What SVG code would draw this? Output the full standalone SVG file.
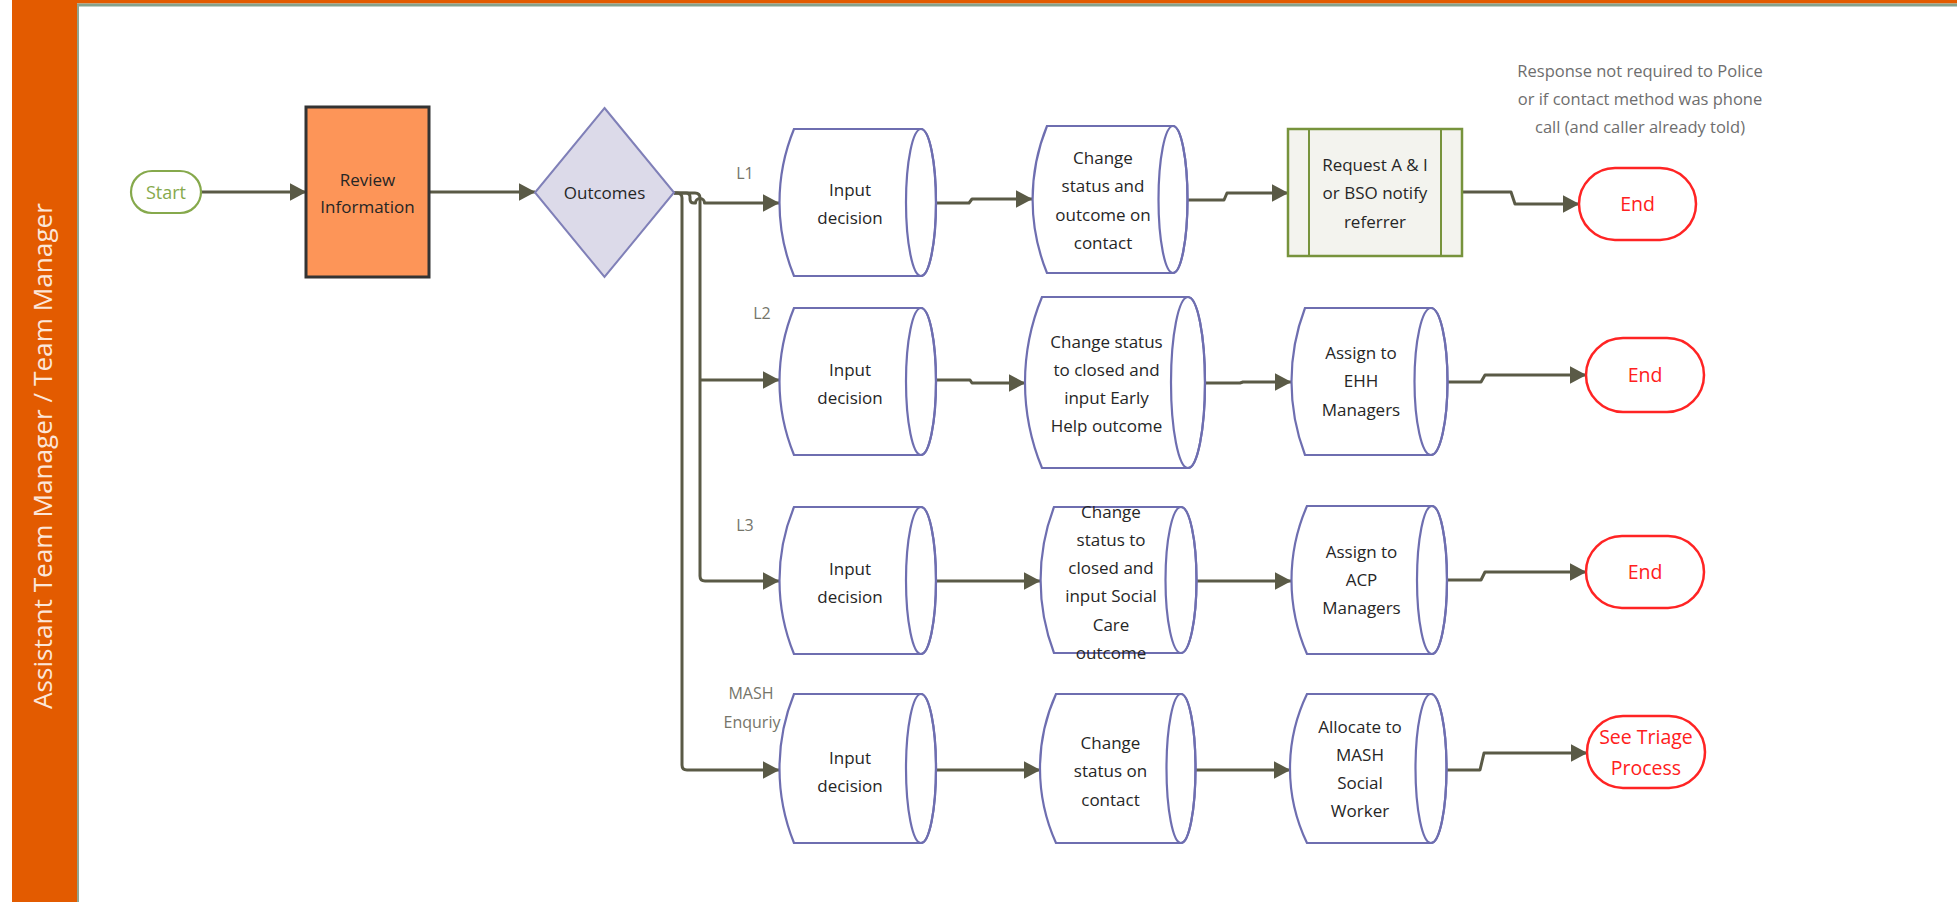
<svg xmlns="http://www.w3.org/2000/svg" width="1957" height="902" viewBox="0 0 1957 902">
  <style>
    .lbl { font-family: "Open Sans", "Liberation Sans", sans-serif; font-size: 17px; fill: #262626; text-anchor: middle; }
    .end { font-family: "Open Sans", "Liberation Sans", sans-serif; font-size: 19.5px; fill: #FF2020; text-anchor: middle; }
    .branch { font-family: "Open Sans", "Liberation Sans", sans-serif; font-size: 16px; fill: #75756A; text-anchor: middle; }
    .note { font-family: "Open Sans", "Liberation Sans", sans-serif; font-size: 16.5px; fill: #6E6E6E; text-anchor: middle; }
    .cyl { fill: #FFFFFF; stroke: #6E6EB0; stroke-width: 2.2; }
    .cyl-cap { fill: none; stroke: #6E6EB0; stroke-width: 2.2; }
    .term-end { fill: #FFFFFF; stroke: #FF2424; stroke-width: 2.5; }
    .conn { fill: none; stroke: #5A5A46; stroke-width: 3; stroke-linejoin: round; }
    .conn-arrow { marker-end: url(#arrow); }
  </style>
  <defs>
    <marker id="arrow" markerUnits="userSpaceOnUse" markerWidth="17" markerHeight="18" viewBox="0 0 17 18" refX="16.5" refY="9" orient="auto">
      <path d="M0,0 L17,9 L0,18 Z" fill="#5A5A46"/>
    </marker>
  </defs>

  <rect width="1957" height="902" fill="#FFFFFF"/>

  <!-- swimlane frame -->
  <g id="lane">
    <rect x="12" y="0" width="1945" height="3.5" fill="#E35B00"/>
    <line x1="12" y1="5" x2="1957" y2="5" stroke="#86A28C" stroke-width="3"/>
    <rect x="12" y="0" width="65" height="902" fill="#E35B00"/>
    <line x1="78" y1="5" x2="78" y2="902" stroke="#8FA592" stroke-width="2"/>
    <text transform="translate(52,456) rotate(-90)" font-family="'Open Sans', 'Liberation Sans', sans-serif" font-size="26.2" fill="#FCE6D8" text-anchor="middle">Assistant Team Manager / Team Manager</text>
  </g>

  <!-- connectors -->
  <g id="connectors">
    <path class="conn conn-arrow" d="M201,192 H306"/>
    <path class="conn conn-arrow" d="M429,192 H535"/>
    <!-- branches out of the decision -->
    <path class="conn conn-arrow" d="M674,193 H677 Q682,193 682,198 V765 Q682,770 687,770 H779"/>
    <path class="conn conn-arrow" d="M674,193 H695 Q700,193 700,198 V576 Q700,581 705,581 H779"/>
    <path class="conn conn-arrow" d="M700,380 H779"/>
    <path class="conn conn-arrow" d="M674,193 H686 Q690,193 690,197 V199 Q690,203 694,203 H695.5 A4.5,4.5 0 0 1 704.5,203 H779"/>
    <!-- L1 row -->
    <path class="conn conn-arrow" d="M936,203 H969 L972,199 H1032"/>
    <path class="conn conn-arrow" d="M1188,200 H1224 L1227,193 H1288"/>
    <path class="conn conn-arrow" d="M1462,192 H1511 L1515,204 H1579"/>
    <!-- L2 row -->
    <path class="conn conn-arrow" d="M936,380 H970 L972,383 H1025"/>
    <path class="conn conn-arrow" d="M1205,383 H1240 L1243,382 H1291"/>
    <path class="conn conn-arrow" d="M1447,382 H1481 L1485,375 H1586"/>
    <!-- L3 row -->
    <path class="conn conn-arrow" d="M936,581 H1040"/>
    <path class="conn conn-arrow" d="M1197,581 H1291"/>
    <path class="conn conn-arrow" d="M1447,580 H1481 L1485,572 H1586"/>
    <!-- MASH enquiry row -->
    <path class="conn conn-arrow" d="M936,770 H1040"/>
    <path class="conn conn-arrow" d="M1196,770 H1290"/>
    <path class="conn conn-arrow" d="M1446,770 H1480 L1484,753 H1587"/>
  </g>

  <!-- branch labels -->
  <g id="branch-labels">
    <text class="branch" x="745" y="179">L1</text>
    <text class="branch" x="762" y="319">L2</text>
    <text class="branch" x="745" y="531">L3</text>
    <text class="branch" x="751" y="699">MASH</text>
    <text class="branch" x="752" y="728">Enquriy</text>
  </g>

  <g id="start">
    <rect x="131" y="171" width="70" height="42" rx="21" fill="#FFFFFF" stroke="#86A94C" stroke-width="2.2"/>
    <text x="166" y="198.5" font-family="'Open Sans', 'Liberation Sans', sans-serif" font-size="18" fill="#86A94C" text-anchor="middle">Start</text>
  </g>

  <g id="review-information">
    <rect x="306" y="107" width="123" height="170" fill="#FD9558" stroke="#333333" stroke-width="3"/>
    <text class="lbl" x="367.5" y="186">Review<tspan x="367.5" dy="27">Information</tspan></text>
  </g>

  <g id="outcomes">
    <path d="M604.5,108 L674,192.5 L604.5,277 L535,192.5 Z" fill="#DCDAE9" stroke="#8080B8" stroke-width="2"/>
    <text class="lbl" x="604.5" y="198.5">Outcomes</text>
  </g>

  <!-- L1 row -->
  <g id="l1-input-decision">
    <path class="cyl" d="M794,129 H921 A15,73.5 0 0 1 921,276 H794 A193.5,193.5 0 0 1 794,129 Z"/>
    <ellipse class="cyl-cap" cx="921" cy="202.5" rx="15" ry="73.5"/>
    <text class="lbl" x="850" y="195.5">Input<tspan x="850" dy="28">decision</tspan></text>
  </g>
  <g id="l1-change-status">
    <path class="cyl" d="M1047,126 H1173 A14.5,73.5 0 0 1 1173,273 H1047 A194.8,194.8 0 0 1 1047,126 Z"/>
    <ellipse class="cyl-cap" cx="1173" cy="199.5" rx="14.5" ry="73.5"/>
    <text class="lbl" x="1103" y="164">Change<tspan x="1103" dy="28.3">status and</tspan><tspan x="1103" dy="28.3">outcome on</tspan><tspan x="1103" dy="28.3">contact</tspan></text>
  </g>
  <g id="l1-request-ai">
    <rect x="1288" y="129" width="174" height="127" fill="#F3F3EE" stroke="#77933C" stroke-width="2.5"/>
    <line x1="1309" y1="129" x2="1309" y2="256" stroke="#77933C" stroke-width="2"/>
    <line x1="1441" y1="129" x2="1441" y2="256" stroke="#77933C" stroke-width="2"/>
    <text class="lbl" x="1375" y="171">Request A &amp; I<tspan x="1375" dy="28.3">or BSO notify</tspan><tspan x="1375" dy="28.3">referrer</tspan></text>
  </g>
  <g id="l1-end">
    <rect class="term-end" x="1579" y="168" width="117" height="72" rx="36"/>
    <text class="end" x="1637.5" y="211">End</text>
  </g>
  <g id="l1-note">
    <text class="note" x="1640" y="76.5">Response not required to Police<tspan x="1640" dy="28.3">or if contact method was phone</tspan><tspan x="1640" dy="28.3">call (and caller already told)</tspan></text>
  </g>

  <!-- L2 row -->
  <g id="l2-input-decision">
    <path class="cyl" d="M794,308 H921 A15,73.5 0 0 1 921,455 H794 A193.5,193.5 0 0 1 794,308 Z"/>
    <ellipse class="cyl-cap" cx="921" cy="381.5" rx="15" ry="73.5"/>
    <text class="lbl" x="850" y="376">Input<tspan x="850" dy="28">decision</tspan></text>
  </g>
  <g id="l2-change-status">
    <path class="cyl" d="M1042,297 H1188 A17,85.5 0 0 1 1188,468 H1042 A223.5,223.5 0 0 1 1042,297 Z"/>
    <ellipse class="cyl-cap" cx="1188" cy="382.5" rx="17" ry="85.5"/>
    <text class="lbl" x="1106.5" y="347.5">Change status<tspan x="1106.5" dy="28.3">to closed and</tspan><tspan x="1106.5" dy="28.3">input Early</tspan><tspan x="1106.5" dy="28.3">Help outcome</tspan></text>
  </g>
  <g id="l2-assign-ehh">
    <path class="cyl" d="M1305,308 H1431 A16.5,73.5 0 0 1 1431,455 H1305 A206.8,206.8 0 0 1 1305,308 Z"/>
    <ellipse class="cyl-cap" cx="1431" cy="381.5" rx="16.5" ry="73.5"/>
    <text class="lbl" x="1361" y="359">Assign to<tspan x="1361" dy="28.3">EHH</tspan><tspan x="1361" dy="28.3">Managers</tspan></text>
  </g>
  <g id="l2-end">
    <rect class="term-end" x="1586" y="338" width="118" height="74" rx="37"/>
    <text class="end" x="1645" y="382">End</text>
  </g>

  <!-- L3 row -->
  <g id="l3-input-decision">
    <path class="cyl" d="M794,507 H921 A15,73.5 0 0 1 921,654 H794 A193.5,193.5 0 0 1 794,507 Z"/>
    <ellipse class="cyl-cap" cx="921" cy="580.5" rx="15" ry="73.5"/>
    <text class="lbl" x="850" y="574.5">Input<tspan x="850" dy="28">decision</tspan></text>
  </g>
  <g id="l3-change-status">
    <path class="cyl" d="M1054,507 H1181 A15.5,73 0 0 1 1181,653 H1054 A205.5,205.5 0 0 1 1054,507 Z"/>
    <ellipse class="cyl-cap" cx="1181" cy="580" rx="15.5" ry="73"/>
    <text class="lbl" x="1111" y="517.5">Change<tspan x="1111" dy="28.3">status to</tspan><tspan x="1111" dy="28.3">closed and</tspan><tspan x="1111" dy="28.3">input Social</tspan><tspan x="1111" dy="28.3">Care</tspan><tspan x="1111" dy="28.3">outcome</tspan></text>
  </g>
  <g id="l3-assign-acp">
    <path class="cyl" d="M1307,506 H1432 A15,74 0 0 1 1432,654 H1307 A184.4,184.4 0 0 1 1307,506 Z"/>
    <ellipse class="cyl-cap" cx="1432" cy="580" rx="15" ry="74"/>
    <text class="lbl" x="1361.5" y="557.5">Assign to<tspan x="1361.5" dy="28.3">ACP</tspan><tspan x="1361.5" dy="28.3">Managers</tspan></text>
  </g>
  <g id="l3-end">
    <rect class="term-end" x="1586" y="536" width="118" height="72" rx="36"/>
    <text class="end" x="1645" y="579">End</text>
  </g>

  <!-- MASH enquiry row -->
  <g id="mash-input-decision">
    <path class="cyl" d="M794,694 H921 A15,74.5 0 0 1 921,843 H794 A198.6,198.6 0 0 1 794,694 Z"/>
    <ellipse class="cyl-cap" cx="921" cy="768.5" rx="15" ry="74.5"/>
    <text class="lbl" x="850" y="763.5">Input<tspan x="850" dy="28">decision</tspan></text>
  </g>
  <g id="mash-change-status">
    <path class="cyl" d="M1056,694 H1181 A14.5,74.5 0 0 1 1181,843 H1056 A181.4,181.4 0 0 1 1056,694 Z"/>
    <ellipse class="cyl-cap" cx="1181" cy="768.5" rx="14.5" ry="74.5"/>
    <text class="lbl" x="1110.5" y="749">Change<tspan x="1110.5" dy="28.3">status on</tspan><tspan x="1110.5" dy="28.3">contact</tspan></text>
  </g>
  <g id="mash-allocate">
    <path class="cyl" d="M1307,694 H1431 A15.5,74.5 0 0 1 1431,843 H1307 A171.7,171.7 0 0 1 1307,694 Z"/>
    <ellipse class="cyl-cap" cx="1431" cy="768.5" rx="15.5" ry="74.5"/>
    <text class="lbl" x="1360" y="732.5">Allocate to<tspan x="1360" dy="28.3">MASH</tspan><tspan x="1360" dy="28.3">Social</tspan><tspan x="1360" dy="28.3">Worker</tspan></text>
  </g>
  <g id="see-triage">
    <rect class="term-end" x="1587" y="716" width="118" height="72" rx="36"/>
    <text class="end" x="1646" y="744">See Triage<tspan x="1646" dy="31">Process</tspan></text>
  </g>
</svg>
